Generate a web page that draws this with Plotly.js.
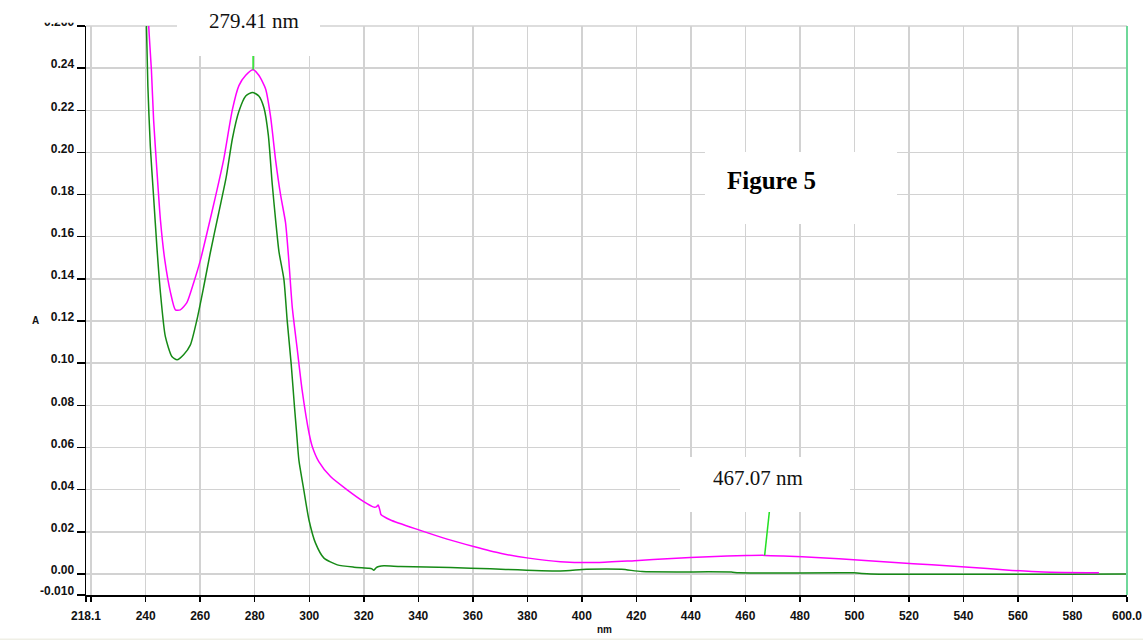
<!DOCTYPE html>
<html>
<head>
<meta charset="utf-8">
<script src="https://cdn.plot.ly/plotly-3.0.1.min.js"></script>
<style>html,body{margin:0;padding:0;background:#fff;}#chart{width:1143px;height:640px;}</style>
</head>
<body>
<div id="chart"></div>
<script>
// Magenta spectrum
const magentaNm = [240.0,241.1,242.1,242.9,244.1,245.4,247.0,249.1,250.9,252.7,255.1,257.6,260.1,262.5,265.6,268.6,271.8,274.2,276.7,279.4,281.5,284.0,285.8,287.7,289.5,291.3,292.5,293.8,295.6,297.4,299.9,301.1,303.5,307.8,313.9,320.0,323.7,324.6,325.3,326.0,326.3,329.8,340.2,350.6,360.3,370.1,380.5,392.1,405.8,419.4,433.0,446.6,460.3,467.1,473.9,487.5,501.1,514.8,528.4,542.0,555.6,569.3,589.7];
const magentaA  = [0.300,0.260,0.239,0.2155,0.1917,0.168,0.149,0.1335,0.1253,0.1253,0.1287,0.1382,0.149,0.1619,0.179,0.1966,0.2203,0.2317,0.2366,0.2392,0.2366,0.2301,0.2171,0.1959,0.1797,0.1667,0.1488,0.1261,0.1066,0.0871,0.0670,0.0605,0.0533,0.0462,0.0399,0.0343,0.0317,0.0318,0.0327,0.0298,0.0282,0.0256,0.0209,0.0165,0.0130,0.0098,0.0075,0.0058,0.0054,0.0063,0.0073,0.0082,0.0087,0.0088,0.0085,0.0077,0.0066,0.0054,0.0043,0.0032,0.0019,0.0009,0.0005];
// Green spectrum
const greenNm = [240.0,240.8,241.7,242.9,244.1,245.4,247.2,249.6,251.5,253.9,256.4,258.8,261.3,263.7,266.8,269.5,271.8,274.2,276.7,279.2,281.5,283.4,285.0,286.4,287.7,288.9,290.7,291.9,293.4,294.6,295.3,296.2,298.0,299.9,302.3,305.4,310.3,316.4,321.9,323.0,323.7,324.6,325.5,327.4,333.5,351.8,366.5,392.1,401.7,414.6,422.1,454.8,457.5,499.8,505.9,600.0];
const greenA  = [0.275,0.2313,0.2028,0.179,0.1553,0.1335,0.1127,0.1032,0.1016,0.104,0.1087,0.1206,0.1364,0.1524,0.1714,0.188,0.2065,0.2195,0.2268,0.2285,0.2268,0.2211,0.2081,0.1853,0.1674,0.1528,0.1398,0.1203,0.0992,0.0790,0.0680,0.0540,0.0399,0.0256,0.0146,0.0075,0.0043,0.0032,0.0027,0.0024,0.0017,0.0030,0.0035,0.0039,0.0035,0.0030,0.0024,0.0014,0.0022,0.0022,0.0011,0.0009,0.0005,0.0005,0.0000,0.0000];
// Peak markers
const peak1Nm = [279.41, 279.41];
const peak1A  = [0.2392, 0.262];
const peak2Nm = [467.07, 468.8];
const peak2A  = [0.0088, 0.0296];
const peakLabels = ["279.41 nm", "467.07 nm"];
const figTitle = "Figure 5";
// Tick labels
const xTickVals = [218.1,220,240,260,280,300,320,340,360,380,400,420,440,460,480,500,520,540,560,580,600];
const xTickText = ["218.1","","240","260","280","300","320","340","360","380","400","420","440","460","480","500","520","540","560","580","600.0"];
const yTickVals = [-0.010,0,0.02,0.04,0.06,0.08,0.10,0.12,0.14,0.16,0.18,0.20,0.22,0.24,0.26];
const yTickText = ["-0.010","0.00","0.02","0.04","0.06","0.08","0.10","0.12","0.14","0.16","0.18","0.20","0.22","0.24","0.260"];

const tickFont = {family: "Liberation Sans, Arial, sans-serif", size: 12, color: "#111", weight: "bold"};
const serif = "Liberation Serif, Times New Roman, serif";

const traces = [
  {x: greenNm, y: greenA, type: "scatter", mode: "lines", line: {color: "#168a16", width: 1.5, shape: "spline", smoothing: 0.6}, hoverinfo: "skip"},
  {x: magentaNm, y: magentaA, type: "scatter", mode: "lines", line: {color: "#ff00ff", width: 1.5, shape: "spline", smoothing: 0.6}, hoverinfo: "skip"},
  {x: peak1Nm, y: peak1A, type: "scatter", mode: "lines", line: {color: "#22e022", width: 1.5}, hoverinfo: "skip"},
  {x: peak2Nm, y: peak2A, type: "scatter", mode: "lines", line: {color: "#22e022", width: 1.5}, hoverinfo: "skip"}
];

const layout = {
  width: 1143, height: 640,
  margin: {l: 86, r: 16, t: 26, b: 45, pad: 0},
  paper_bgcolor: "#ffffff", plot_bgcolor: "#ffffff",
  showlegend: false,
  xaxis: {
    range: [218.1, 600], tickmode: "array", tickvals: xTickVals, ticktext: xTickText,
    showgrid: true, gridcolor: "#d2d2d2", gridwidth: 1.5,
    showline: true, linecolor: "#000", linewidth: 1.5,
    ticks: "outside", ticklen: 5, tickcolor: "#000", tickwidth: 1.5,
    ticklabelstandoff: 4,
    tickfont: tickFont, zeroline: false, fixedrange: true
  },
  yaxis: {
    range: [-0.010, 0.260], tickmode: "array", tickvals: yTickVals, ticktext: yTickText,
    showgrid: true, gridcolor: "#d2d2d2", gridwidth: 1.5,
    showline: true, linecolor: "#000", linewidth: 1.5,
    ticks: "outside", ticklen: 8, tickcolor: "#000", tickwidth: 1.5,
    tickfont: tickFont, ticklabelshift: -4, zeroline: false, fixedrange: true
  },
  shapes: [
    {type: "line", xref: "paper", yref: "paper", x0: 0, x1: 1, y0: 1, y1: 1, line: {color: "#d2d2d2", width: 1.5}, layer: "below"},
    {type: "rect", xref: "paper", yref: "paper", x0: 0.0874, x1: 0.2248, y0: 0.9473, y1: 1.1, fillcolor: "#fff", line: {width: 0}, layer: "above"},
    {type: "rect", xref: "paper", yref: "paper", x0: 0.5946, x1: 0.7791, y0: 0.6520, y1: 0.7786, fillcolor: "#fff", line: {width: 0}, layer: "above"},
    {type: "rect", xref: "paper", yref: "paper", x0: 0.5706, x1: 0.7339, y0: 0.1459, y1: 0.2425, fillcolor: "#fff", line: {width: 0}, layer: "above"},
    {type: "rect", xref: "paper", yref: "paper", x0: -0.1, x1: -0.004, y0: 1.0058, y1: 1.1, fillcolor: "#fff", line: {width: 0}, layer: "above"},
    {type: "line", xref: "paper", yref: "paper", x0: 1, x1: 1, y0: 0, y1: 1, line: {color: "#6fd89a", width: 2}, layer: "above"},
    {type: "rect", xref: "paper", yref: "paper", x0: -0.09, x1: 1.02, y0: -0.0765, y1: -0.0800, fillcolor: "#efefe6", line: {width: 0}, layer: "above"}
  ],
  annotations: [
    {xref: "paper", yref: "paper", x: (254 - 86) / 1041, y: (595 - 21) / 569, text: peakLabels[0], showarrow: false,
     font: {family: serif, size: 21, color: "#111"}, xanchor: "center", yanchor: "middle"},
    {xref: "paper", yref: "paper", x: (758 - 86) / 1041, y: (595 - 478) / 569, text: peakLabels[1], showarrow: false,
     font: {family: serif, size: 21, color: "#111"}, xanchor: "center", yanchor: "middle"},
    {xref: "paper", yref: "paper", x: (771.5 - 86) / 1041, y: (595 - 180) / 569, text: "<b>" + figTitle + "</b>", showarrow: false,
     font: {family: serif, size: 25, color: "#000"}, xanchor: "center", yanchor: "middle"},
    {xref: "paper", yref: "paper", x: (35 - 86) / 1041, y: (595 - 320) / 569, text: "<b>A</b>", showarrow: false,
     font: {family: "Liberation Sans, Arial, sans-serif", size: 10, color: "#111"}, xanchor: "center", yanchor: "middle"},
    {xref: "paper", yref: "paper", x: (604 - 86) / 1041, y: (595 - 630) / 569, text: "<b>nm</b>", showarrow: false,
     font: {family: "Liberation Sans, Arial, sans-serif", size: 10, color: "#111"}, xanchor: "center", yanchor: "middle"}
  ]
};

Plotly.newPlot("chart", traces, layout, {displayModeBar: false, staticPlot: true});
</script>
</body>
</html>
